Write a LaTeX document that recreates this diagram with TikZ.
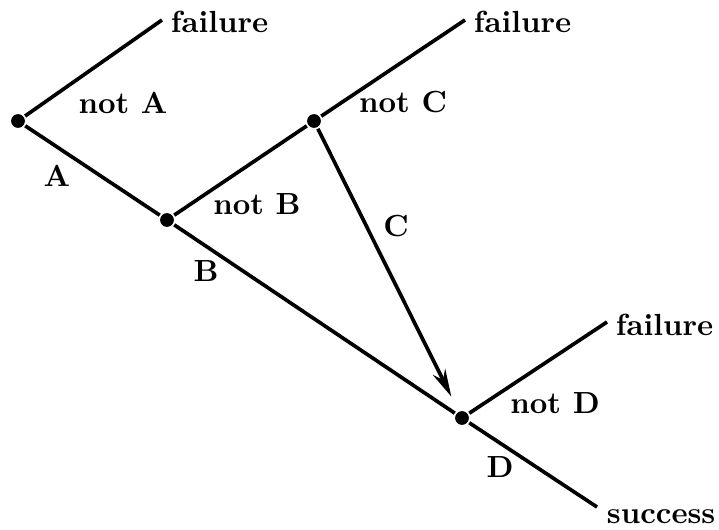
\documentclass[tikz,border=0pt]{standalone}
\usepackage{tikz}
\usetikzlibrary{arrows.meta, positioning, calc}

\begin{document}
\begin{tikzpicture}[x=0.0115cm, y=-0.0115cm, line width=1.2pt,
    dot/.style={circle, fill=black, inner sep=0pt, minimum size=4.5pt},
    lab/.style={font=\bfseries},
    endlab/.style={font=\bfseries, anchor=west, inner sep=1pt}]
    \useasboundingbox (0,0) rectangle (719,529);

    % event nodes
    \node (nA) [dot] at (18,121) {};
    \node (nB) [dot] at (167,220) {};
    \node (nC) [dot] at (314,121) {};
    \node (nD) [dot] at (462,418) {};

    % outcome ends
    \coordinate (fA) at (162,20);
    \coordinate (fC) at (465,20);
    \coordinate (fD) at (607,322);
    \coordinate (sD) at (597,507);

    \node (failA) [endlab] at (166,22) {failure};
    \node (failC) [endlab] at (469,22) {failure};
    \node (failD) [endlab] at (611,325) {failure};
    \node (succ) [endlab] at (602,517) {success};

    \draw (nA) -- (fA);
    \draw (nA) -- (nB) -- (nD) -- (sD);
    \draw (nB) -- (nC) -- (fC);
    \draw (nD) -- (fD);
    \draw[-{Stealth[length=9pt, width=4.5pt]}, shorten >=5pt] (nC) -- (nD);

    \node (notA) [lab] at (123,103) {not A};
    \node (labA) [lab] at (57,176) {A};
    \node (notB) [lab] at (257,204) {not B};
    \node (labB) [lab] at (206,271) {B};
    \node (notC) [lab] at (403,102) {not C};
    \node (labC) [lab] at (396,226) {C};
    \node (notD) [lab] at (555,403) {not D};
    \node (labD) [lab] at (500,467) {D};
\end{tikzpicture}
\end{document}
